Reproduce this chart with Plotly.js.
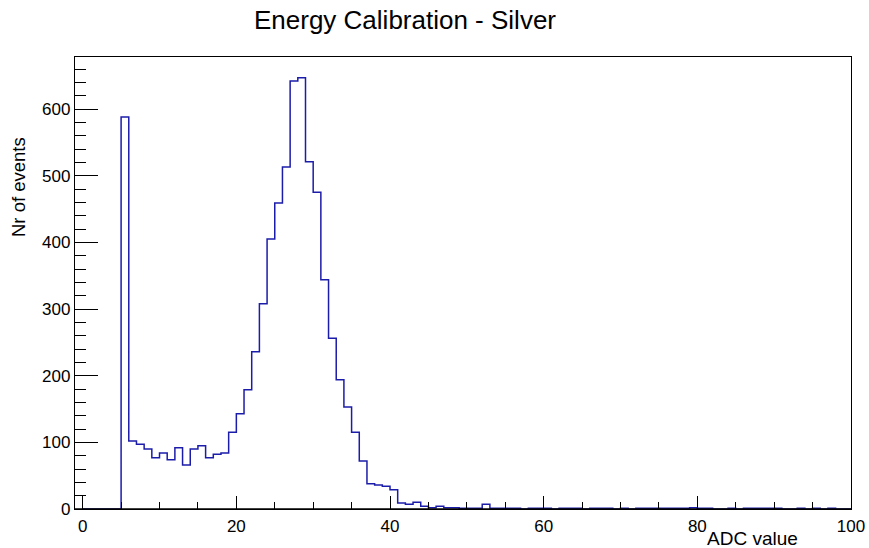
<!DOCTYPE html>
<html>
<head>
<meta charset="utf-8">
<script src="https://cdn.plot.ly/plotly-3.0.1.min.js"></script>
<style>
html,body{margin:0;padding:0;background:#fff;}
#chart{width:869px;height:548px;}
</style>
</head>
<body>
<div id="chart"></div>
<script>
// Bin low edges (width 1), ADC value
const binLow = [0,1,2,3,4,5,6,7,8,9,10,11,12,13,14,15,16,17,18,19,
  20,21,22,23,24,25,26,27,28,29,30,31,32,33,34,35,36,37,38,39,
  40,41,42,43,44,45,46,47,48,49,50,51,52,53,54,55,56,57,58,59,
  60,61,62,63,64,65,66,67,68,69,70,71,72,73,74,75,76,77,78,79,
  80,81,82,83,84,85,86,87,88,89,90,91,92,93,94,95,96,97,98,99];
const binHighEnd = 100;
// Counts per bin (Nr of events)
const counts = [0,0,0,0,0,588,102,97,90,77,84,74,92,66,90,95,77,82,84,115,
  143,179,236,308,405,459,513,642,647,521,475,344,256,194,153,115,72,38,36,34,
  29,9,7,10,4,2,4,2,2,1,1,1,7,1,1,1,1,0,1,1,
  1,0,1,1,1,0,1,1,1,0,1,0,1,1,1,1,1,1,1,2,
  1,1,0,0,1,0,1,1,1,1,1,0,0,1,0,1,0,1,0,0];

const xTickVals = [0,20,40,60,80,100];
const yTickVals = [0,100,200,300,400,500,600];

const xs = binLow.concat([binHighEnd]);
const ys = counts.concat([counts[counts.length-1]]);

const trace = {
  type: 'scatter',
  mode: 'lines',
  x: xs,
  y: ys,
  line: {shape: 'hv', color: '#1c1caa', width: 1.5},
  hoverinfo: 'x+y'
};

const font = {family: '"Liberation Sans", Arial, Helvetica, sans-serif', color: '#000'};

const layout = {
  width: 869,
  height: 548,
  margin: {l: 75, r: 18, t: 57, b: 39},
  paper_bgcolor: '#fff',
  plot_bgcolor: '#fff',
  showlegend: false,
  font: Object.assign({size: 17}, font),
  title: {
    text: 'Energy Calibration - Silver',
    font: Object.assign({size: 26}, font),
    x: 405/869, xanchor: 'center',
    y: 1 - 20/548, yanchor: 'middle'
  },
  xaxis: {
    range: [-1, 100],
    tickvals: xTickVals,
    ticktext: xTickVals.map(String),
    ticks: 'inside',
    ticklen: 13,
    tickwidth: 1,
    tickcolor: '#000',
    minor: {dtick: 5, tick0: 0, ticks: 'inside', ticklen: 7, tickwidth: 1, tickcolor: '#000', showgrid: false},
    showgrid: false,
    zeroline: false,
    showline: true,
    linecolor: '#000',
    linewidth: 1.2,
    mirror: true,
    tickfont: Object.assign({size: 17}, font),
    ticklabelstandoff: 1,
    layer: 'above traces'
  },
  yaxis: {
    range: [0, 678],
    tickvals: yTickVals,
    ticktext: yTickVals.map(String),
    ticks: 'inside',
    ticklen: 23,
    tickwidth: 1,
    tickcolor: '#000',
    minor: {dtick: 20, tick0: 0, ticks: 'inside', ticklen: 11, tickwidth: 1, tickcolor: '#000', showgrid: false},
    showgrid: false,
    zeroline: false,
    showline: true,
    linecolor: '#000',
    linewidth: 1.2,
    mirror: true,
    tickfont: Object.assign({size: 17}, font),
    layer: 'above traces'
  },
  shapes: [
    {
      type: 'line', layer: 'above',
      xref: 'paper', yref: 'y',
      x0: 0, x1: 1, y0: 0, y1: 0,
      line: {color: '#000', width: 1.6}
    }
  ],
  annotations: [
    {
      text: 'ADC value',
      xref: 'paper', yref: 'paper',
      x: (800-75)/776, y: (509-538)/452,
      xanchor: 'right', yanchor: 'middle',
      showarrow: false,
      font: Object.assign({size: 19}, font)
    },
    {
      text: 'Nr of events',
      xref: 'paper', yref: 'paper',
      x: (18-75)/776, y: (509-187)/452,
      xanchor: 'center', yanchor: 'middle',
      textangle: -90,
      showarrow: false,
      font: Object.assign({size: 18.5}, font)
    }
  ]
};

Plotly.newPlot('chart', [trace], layout, {displayModeBar: false, staticPlot: true});
</script>
</body>
</html>
